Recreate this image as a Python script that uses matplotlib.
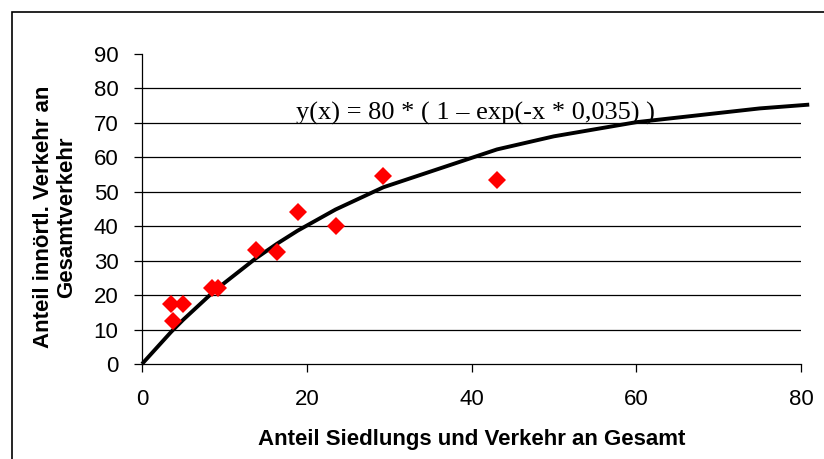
import numpy as np
import matplotlib
matplotlib.use("Agg")
import matplotlib.pyplot as plt
from matplotlib.patches import Rectangle

# Messwerte: Anteil Siedlungs-/Verkehrsfläche (x) und innerörtlicher Verkehr (y)
anteil_flaeche = [3.5, 3.8, 5.0, 8.5, 9.2, 13.8, 16.4, 18.9, 23.5, 29.3, 43.1]
anteil_verkehr = [17.4, 12.6, 17.4, 22.2, 22.2, 33.1, 32.4, 44.1, 40.0, 54.6, 53.4]

# Stützstellen der Ausgleichskurve y(x) = 80 * (1 - exp(-x * 0,035))
kurve_x = [0, 3.5, 3.8, 5.0, 8.5, 9.2, 13.8, 16.4, 18.9, 23.5, 29.3, 43.1, 50, 60, 75, 81]
a, k = 80, 0.035
kurve_y = [a * (1 - np.exp(-x * k)) for x in kurve_x]

x_ticks = [0, 20, 40, 60, 80]
y_ticks = [0, 10, 20, 30, 40, 50, 60, 70, 80, 90]

plt.rcParams['font.family'] = ['Liberation Sans', 'DejaVu Sans']

fig = plt.figure(figsize=(8.24, 4.59), dpi=100)
ax = fig.add_axes([142 / 824, 95 / 459, 659 / 824, 310 / 459])

# Gitterlinien
for yv in y_ticks[1:-1]:
    ax.axhline(yv, color='black', linewidth=0.9, zorder=1)

ax.plot(kurve_x, kurve_y, color='black', linewidth=2.8, zorder=2, clip_on=False,
        solid_capstyle='butt')
ax.plot(anteil_flaeche, anteil_verkehr, linestyle='none', marker='D', markersize=9.5,
        color='#ff0000', markeredgewidth=0, zorder=3)

ax.set_xlim(0, 80)
ax.set_ylim(0, 90)
ax.set_xticks(x_ticks)
ax.set_yticks(y_ticks)
ax.tick_params(direction='out', length=6, width=0.9, labelsize=16, colors='black')
ax.tick_params(axis='y', pad=11)
ax.tick_params(axis='x', pad=12)

for side in ['top', 'right']:
    ax.spines[side].set_visible(False)
for side in ['left', 'bottom']:
    ax.spines[side].set_linewidth(0.9)

ax.text(18.7, 72.6, 'y(x) = 80 * ( 1 – exp(-x * 0,035) )', family=['Liberation Serif'],
        fontsize=19, ha='left', va='center', zorder=4)

ax.set_xlabel('Anteil Siedlungs und Verkehr an Gesamt', fontsize=16, fontweight='bold',
              labelpad=14)
fig.text(55 / 824, 1 - 217 / 459, 'Anteil innörtl. Verkehr an\nGesamtverkehr',
         rotation=90, ha='center', va='center', multialignment='center',
         fontsize=16, fontweight='bold', linespacing=1.15)

# Rahmen des Diagrammbereichs
fig.patches.append(Rectangle((12 / 824, -0.1), 1.1, 1 - 12 / 459 + 0.1,
                             transform=fig.transFigure, fill=False,
                             edgecolor='black', linewidth=1.2))

fig.savefig('out.png', dpi=100)
